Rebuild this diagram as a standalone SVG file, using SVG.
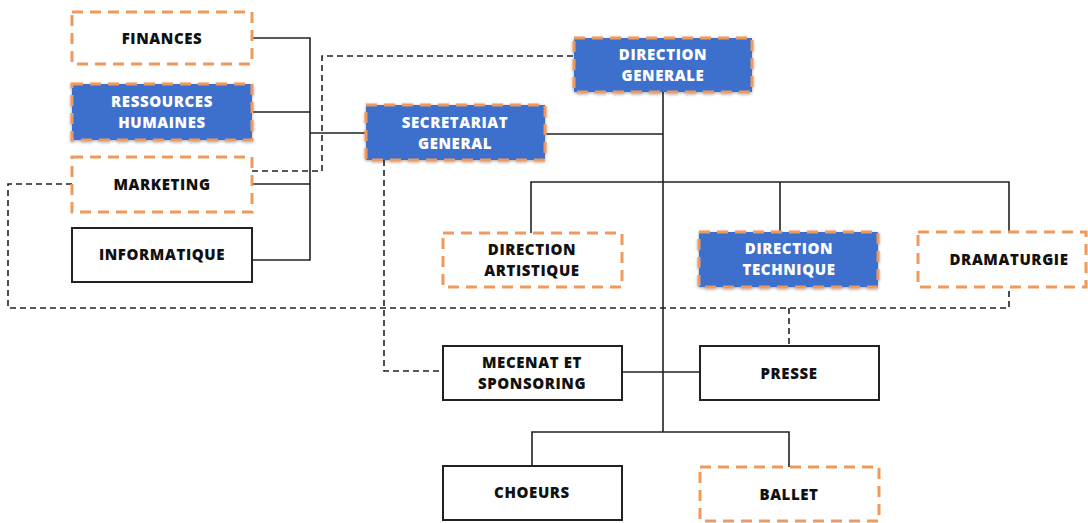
<svg xmlns="http://www.w3.org/2000/svg" width="1088" height="523" viewBox="0 0 1088 523">
<defs>
<filter id="sh" x="-10%" y="-20%" width="120%" height="140%"><feDropShadow dx="0" dy="1" stdDeviation="1.5" flood-color="#000" flood-opacity="0.35"/></filter>
</defs>
<style>
.o{fill:#fff;stroke:#ef9a5c;stroke-width:3;stroke-dasharray:11 7}
.b{fill:#3d6fcc;stroke:#ef9a5c;stroke-width:3;stroke-dasharray:11 7;filter:url(#sh)}
.s{fill:#fff;stroke:#222;stroke-width:2}
text{font-family:"Open Sans","Liberation Sans",sans-serif;font-weight:800;font-size:15px;letter-spacing:0.6px;text-anchor:middle;fill:#111}
.w{fill:#fff}
.c{fill:none;stroke:#222;stroke-width:1.6}
.d{fill:none;stroke:#222;stroke-width:1.6;stroke-dasharray:6 4}
</style>
<g id="connectors">
<path class="c" d="M252,38 H310 V260 H252 M252,112 H310 M252,184 H310 M310,133 H366"/>
<path class="c" d="M545,134 H663 M663,92 V432"/>
<path class="c" d="M531,233 V182 H1009 V232 M780,182 V232"/>
<path class="c" d="M622,372 H700"/>
<path class="c" d="M532,466 V432 H789 V467"/>
<path class="d" d="M252,171 H322 V56 H574"/>
<path class="d" d="M72,184 H8 V308 H1009 V287"/>
<path class="d" d="M789,308 V346"/>
<path class="d" d="M384,160 V371 H443"/>
</g>
<g id="finances"><rect class="o" x="72" y="12" width="180" height="52"/><text x="162" y="43.5">FINANCES</text></g>
<g id="rh"><rect class="b" x="72" y="84" width="180" height="56"/><text class="w" x="162" y="107">RESSOURCES</text><text class="w" x="162" y="128">HUMAINES</text></g>
<g id="marketing"><rect class="o" x="72" y="157" width="180" height="55"/><text x="162" y="189.5">MARKETING</text></g>
<g id="informatique"><rect class="s" x="72" y="228" width="180" height="54"/><text x="162" y="260">INFORMATIQUE</text></g>
<g id="dg"><rect class="b" x="574" y="38" width="178" height="54"/><text class="w" x="663" y="60">DIRECTION</text><text class="w" x="663" y="81">GENERALE</text></g>
<g id="sg"><rect class="b" x="366" y="105" width="179" height="55"/><text class="w" x="455" y="128">SECRETARIAT</text><text class="w" x="455" y="149">GENERAL</text></g>
<g id="da"><rect class="o" x="443" y="233" width="179" height="54"/><text x="532" y="255">DIRECTION</text><text x="532" y="276">ARTISTIQUE</text></g>
<g id="dt"><rect class="b" x="699" y="232" width="179" height="55"/><text class="w" x="789" y="254">DIRECTION</text><text class="w" x="789" y="275">TECHNIQUE</text></g>
<g id="dramaturgie"><rect class="o" x="918" y="232" width="168" height="55"/><text x="1009" y="264.5">DRAMATURGIE</text></g>
<g id="mecenat"><rect class="s" x="443" y="346" width="179" height="54"/><text x="532" y="368">MECENAT ET</text><text x="532" y="389">SPONSORING</text></g>
<g id="presse"><rect class="s" x="700" y="346" width="179" height="54"/><text x="789" y="378.5">PRESSE</text></g>
<g id="choeurs"><rect class="s" x="443" y="466" width="179" height="54"/><text x="532" y="497.5">CHOEURS</text></g>
<g id="ballet"><rect class="o" x="700" y="467" width="179" height="54"/><text x="789" y="499.5">BALLET</text></g>
</svg>
